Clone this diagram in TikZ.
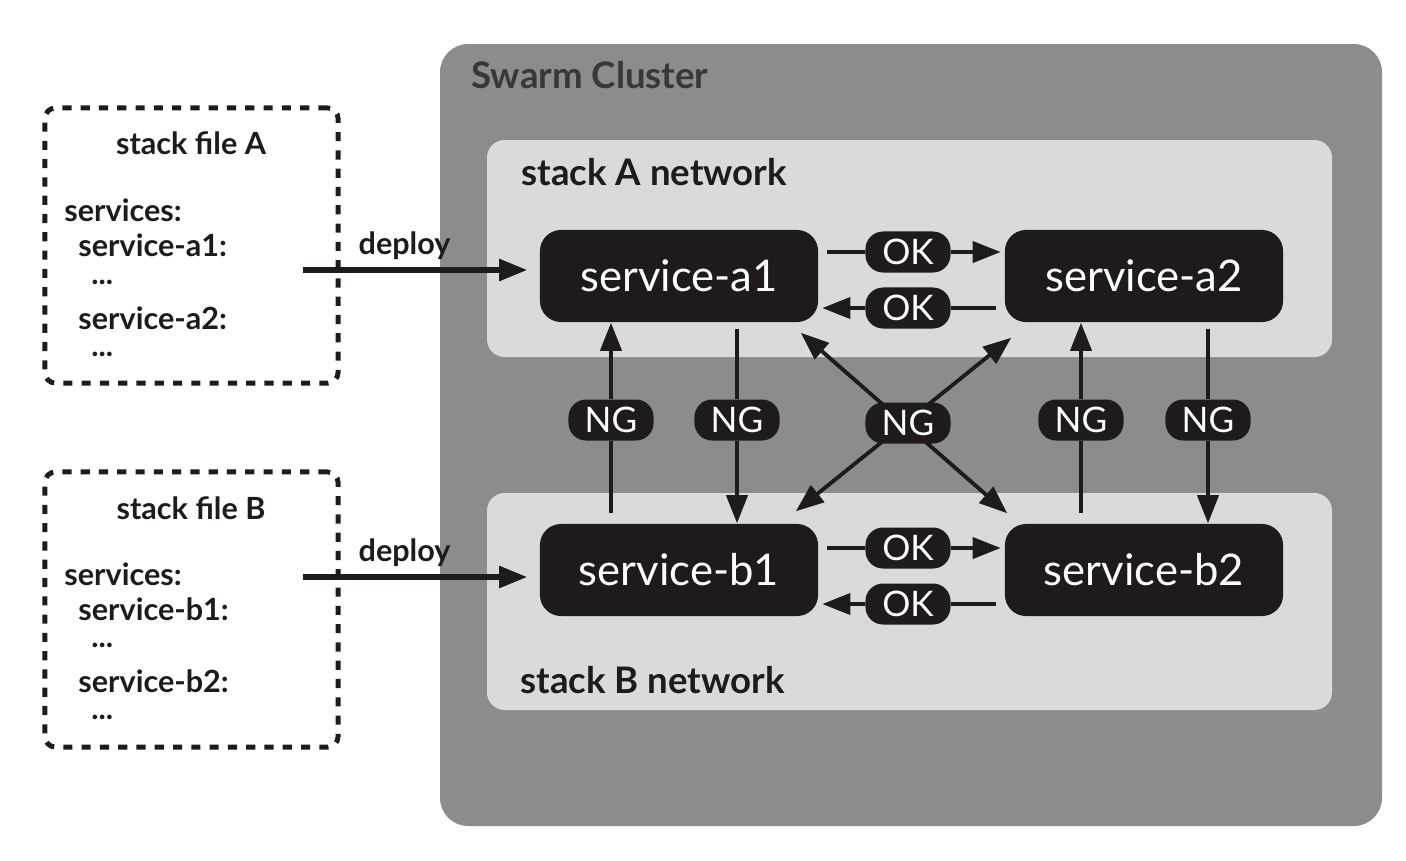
\documentclass[tikz,border=0pt]{standalone}
\usepackage{fontspec}
\setmainfont{Lato}
\usetikzlibrary{arrows.meta,positioning,calc}

\definecolor{boxblack}{HTML}{1F1B1B}
\definecolor{clustergray}{HTML}{8C8C8C}
\definecolor{netgray}{HTML}{DADADA}
\definecolor{titlegray}{HTML}{383838}

\begin{document}
\begin{tikzpicture}[x=0.01cm,y=-0.01cm,
    svc/.style={fill=boxblack,rounded corners=6pt,minimum width=2.78cm,minimum height=0.92cm,
        inner sep=0pt,text=white,font=\fontsize{12.4}{15}\selectfont},
    tag/.style={fill=boxblack,rounded corners=5pt,minimum width=0.85cm,minimum height=0.41cm,
        inner sep=0pt,text=white,font=\fontsize{10}{12}\selectfont},
    arr/.style={line width=1.1pt,boxblack,-{Triangle[length=8pt,width=6pt]}},
    twoway/.style={line width=1.1pt,boxblack,{Triangle[length=8pt,width=6pt]}-{Triangle[length=8pt,width=6pt]}},
    plain/.style={line width=1.1pt,boxblack},
    deploy/.style={line width=1.5pt,boxblack,-{Triangle[length=8pt,width=6pt]}},
    net/.style={fill=netgray,rounded corners=5pt},
    filebox/.style={draw=boxblack,line width=1.4pt,dash pattern=on 2.6pt off 2.6pt,
        rounded corners=3pt,minimum width=2.93cm,minimum height=2.75cm},
    code/.style={anchor=west,text=boxblack,font=\bfseries\fontsize{8.7}{10}\selectfont},
    title/.style={anchor=west,font=\bfseries\fontsize{10.4}{12}\selectfont}
]
\useasboundingbox (0,0) rectangle (1406,860);

% cluster and the two networks
\fill[clustergray,rounded corners=8pt] (440,44) rectangle (1382,826);
\node[title,text=titlegray] (cluster) at (459,75) {Swarm Cluster};
\fill[net] (487,140) rectangle (1332,357);
\node[title,text=boxblack] (neta) at (509,172) {stack A network};
\fill[net] (487,493) rectangle (1332,710);
\node[title,text=boxblack] (netb) at (508,680) {stack B network};

% stack files
\node[filebox] (fileA) at (191.5,245.5) {};
\node[code,anchor=center] (titleA) at (191,143) {stack file A};
\node[code] (svcA) at (52,210) {services:};
\node[code] (a1A) at (66,245) {service-a1:};
\node[code] (d1A) at (79,282) {...};
\node[code] (a2A) at (66,318) {service-a2:};
\node[code] (d2A) at (79,354) {...};

\node[filebox] (fileB) at (191.5,609.5) {};
\node[code,anchor=center] (titleB) at (191,508) {stack file B};
\node[code] (svcB) at (52,574) {services:};
\node[code] (b1B) at (66,609) {service-b1:};
\node[code] (d1B) at (79,645) {...};
\node[code] (b2B) at (66,681) {service-b2:};
\node[code] (d2B) at (79,717) {...};

% services
\node[svc] (a1) at (679,276) {service-a1};
\node[svc] (a2) at (1144,276) {service-a2};
\node[svc] (b1) at (679,570) {service-b1};
\node[svc] (b2) at (1144,570) {service-b2};

% deploy
\coordinate (depA) at (303,270);
\coordinate (depB) at (303,577);
\draw[deploy,shorten >=3.4pt] (depA) -- node[above=-1pt,pos=0.43,code,anchor=south] {deploy} (a1.west |- depA);
\draw[deploy,shorten >=3.4pt] (depB) -- node[above=-1pt,pos=0.43,code,anchor=south] {deploy} (b1.west |- depB);

% OK inside each network
\node[tag] (oka1) at (908,252) {OK};
\node[tag] (oka2) at (908,308) {OK};
\node[tag] (okb1) at (908,548) {OK};
\node[tag] (okb2) at (908,604) {OK};
\draw[plain,shorten <=2.2pt] (a1.east |- oka1) -- (oka1.west);
\draw[arr,shorten >=1pt] (oka1.east) -- (a2.west |- oka1);
\draw[plain,shorten <=2.2pt] (a2.west |- oka2) -- (oka2.east);
\draw[arr,shorten >=1pt] (oka2.west) -- (a1.east |- oka2);
\draw[plain,shorten <=2.2pt] (b1.east |- okb1) -- (okb1.west);
\draw[arr,shorten >=1pt] (okb1.east) -- (b2.west |- okb1);
\draw[plain,shorten <=2.2pt] (b2.west |- okb2) -- (okb2.east);
\draw[arr,shorten >=1pt] (okb2.west) -- (b1.east |- okb2);

% NG between the networks
\node[tag] (ng1) at (611,420) {NG};
\node[tag] (ng2) at (737,420) {NG};
\node[tag] (ng4) at (1081,420) {NG};
\node[tag] (ng5) at (1208,420) {NG};
\draw[plain,shorten <=2.8pt] (ng1 |- b1.north) -- (ng1.south);
\draw[arr] (ng1.north) -- (ng1 |- a1.south);
\draw[plain,shorten <=1.7pt] (ng2 |- a1.south) -- (ng2.north);
\draw[arr] (ng2.south) -- (ng2 |- b1.north);
\draw[plain,shorten <=2.8pt] (ng4 |- b2.north) -- (ng4.south);
\draw[arr] (ng4.north) -- (ng4 |- a2.south);
\draw[plain,shorten <=1.7pt] (ng5 |- a2.south) -- (ng5.north);
\draw[arr] (ng5.south) -- (ng5 |- b2.north);

\coordinate (a1d) at ($(a1.south east)+(-18,10)$);
\coordinate (a2d) at ($(a2.south west)+(7,15)$);
\coordinate (b1d) at ($(b1.north east)+(-23,-12)$);
\coordinate (b2d) at ($(b2.north west)+(3,-10)$);
\draw[twoway] (a1d) -- (b2d);
\draw[twoway] (a2d) -- (b1d);
\node[tag] (ng3) at (908,423) {NG};

\end{tikzpicture}
\end{document}
